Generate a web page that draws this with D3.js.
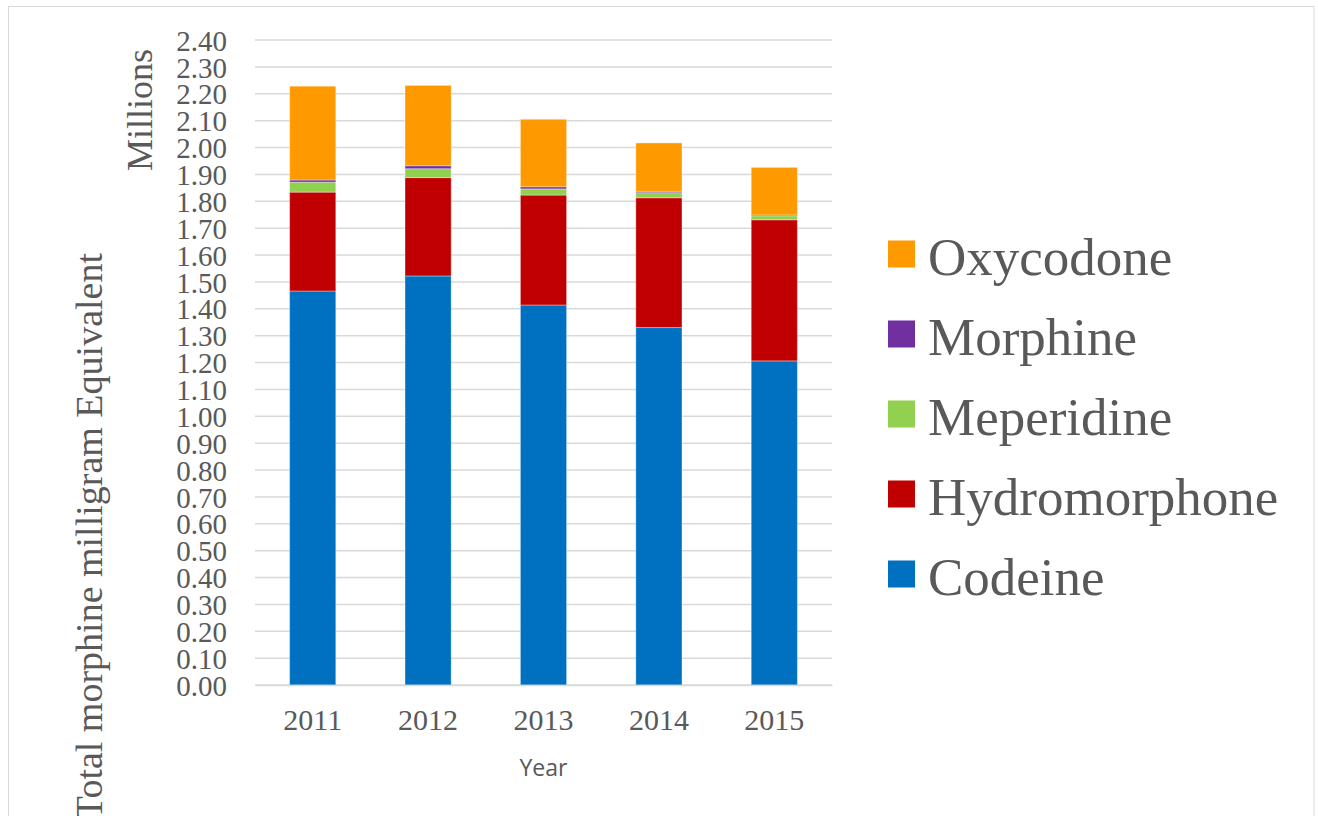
<!DOCTYPE html>
<html>
<head>
<meta charset="utf-8">
<script src="https://cdn.jsdelivr.net/npm/d3@7"></script>
<style>
  body { margin: 0; background: #fff; }
  svg { display: block; }
  .tick text { fill: #595959; }
</style>
</head>
<body>
<div id="chart"></div>
<script>
// Chart values (millions)
var years = ["2011", "2012", "2013", "2014", "2015"];
var drugs = ["Codeine", "Hydromorphone", "Meperidine", "Morphine", "Oxycodone"];
var codeine = [1.466, 1.522, 1.414, 1.330, 1.206];
var hydromorphone = [0.368, 0.366, 0.409, 0.483, 0.525];
var meperidine = [0.037, 0.033, 0.023, 0.019, 0.015];
var morphine = [0.008, 0.011, 0.008, 0.005, 0.003];
var oxycodone = [0.349, 0.299, 0.251, 0.180, 0.177];
var yTicks = d3.range(0, 25).map(d => d / 10);

var colors = {
  Codeine: "#0070C0",
  Hydromorphone: "#C00000",
  Meperidine: "#92D050",
  Morphine: "#7030A0",
  Oxycodone: "#FF9900"
};

var svgWidth = 1318;
var svgHeight = 816;

var margin = { top: 40, left: 255, right: 486, bottom: 131 };
var width = svgWidth - margin.left - margin.right;
var height = svgHeight - margin.top - margin.bottom;

var svg = d3.select("#chart")
  .append("svg")
  .attr("width", svgWidth)
  .attr("height", svgHeight);

// chart frame
svg.append("rect")
  .attr("x", 8.5)
  .attr("y", 6.5)
  .attr("width", 1305.5)
  .attr("height", 840)
  .attr("fill", "none")
  .attr("stroke", "#d9d9d9")
  .attr("stroke-width", 1);

var chartGroup = svg.append("g")
  .attr("transform", `translate(${margin.left}, ${margin.top})`);

// build rows for the stack
var rows = years.map(function(y, i) {
  return {
    year: y,
    Codeine: codeine[i],
    Hydromorphone: hydromorphone[i],
    Meperidine: meperidine[i],
    Morphine: morphine[i],
    Oxycodone: oxycodone[i]
  };
});

var stacked = d3.stack().keys(drugs)(rows);

var xScale = d3.scaleBand()
  .domain(years)
  .range([0, width])
  .paddingInner(0.6)
  .paddingOuter(0.3);

var yScale = d3.scaleLinear()
  .domain([0, 2.4])
  .range([height, 0]);

// gridlines
chartGroup.append("g")
  .selectAll("line")
  .data(yTicks)
  .enter()
  .append("line")
  .attr("x1", 0)
  .attr("x2", width)
  .attr("y1", d => yScale(d))
  .attr("y2", d => yScale(d))
  .attr("stroke", "#d9d9d9")
  .attr("stroke-width", 1.5);

// y axis labels
var leftAxis = d3.axisLeft(yScale)
  .tickValues(yTicks)
  .tickFormat(d3.format(".2f"))
  .tickSize(0)
  .tickPadding(28);

chartGroup.append("g")
  .call(leftAxis)
  .call(g => g.select(".domain").remove())
  .selectAll("text")
  .attr("font-family", "'Liberation Serif', 'Times New Roman', serif")
  .attr("font-size", "29px")
  .attr("dy", "0.35em");

// bars
chartGroup.selectAll(".layer")
  .data(stacked)
  .enter()
  .append("g")
  .attr("class", "layer")
  .attr("fill", d => colors[d.key])
  .selectAll("rect")
  .data(d => d)
  .enter()
  .append("rect")
  .attr("x", d => xScale(d.data.year))
  .attr("width", xScale.bandwidth())
  .attr("y", d => yScale(d[1]))
  .attr("height", d => yScale(d[0]) - yScale(d[1]))
  .attr("stroke", "rgba(255,255,255,0.35)")
  .attr("stroke-width", 1);

// x axis
var bottomAxis = d3.axisBottom(xScale).tickSize(0).tickPadding(24);

chartGroup.append("g")
  .attr("transform", `translate(0, ${height})`)
  .call(bottomAxis)
  .call(g => g.select(".domain").attr("stroke", "#d9d9d9").attr("stroke-width", 1.5))
  .selectAll("text")
  .attr("font-family", "'Liberation Serif', 'Times New Roman', serif")
  .attr("font-size", "30px");

// axis titles
svg.append("text")
  .attr("x", margin.left + width / 2)
  .attr("y", 776)
  .attr("text-anchor", "middle")
  .attr("font-family", "'Open Sans', sans-serif")
  .attr("font-size", "23px")
  .attr("fill", "#595959")
  .text("Year");

svg.append("text")
  .attr("transform", "translate(102, 253) rotate(-90)")
  .attr("text-anchor", "end")
  .attr("font-family", "'Liberation Serif', 'Times New Roman', serif")
  .attr("font-size", "38px")
  .attr("fill", "#595959")
  .text("Total morphine milligram Equivalent");

svg.append("text")
  .attr("transform", "translate(152, 110) rotate(-90)")
  .attr("text-anchor", "middle")
  .attr("font-family", "'Liberation Serif', 'Times New Roman', serif")
  .attr("font-size", "36px")
  .attr("fill", "#595959")
  .text("Millions");

// legend, top to bottom in reverse stack order
var legendItems = drugs.slice().reverse();

var legend = svg.append("g")
  .attr("transform", "translate(888, 254)");

var item = legend.selectAll("g")
  .data(legendItems)
  .enter()
  .append("g")
  .attr("transform", (d, i) => `translate(0, ${i * 80})`);

item.append("rect")
  .attr("x", 0)
  .attr("y", -13.5)
  .attr("width", 27)
  .attr("height", 27)
  .attr("fill", d => colors[d]);

item.append("text")
  .attr("x", 40)
  .attr("y", 21)
  .attr("font-family", "'Liberation Serif', 'Times New Roman', serif")
  .attr("font-size", "53px")
  .attr("fill", "#595959")
  .text(d => d);
</script>
</body>
</html>
